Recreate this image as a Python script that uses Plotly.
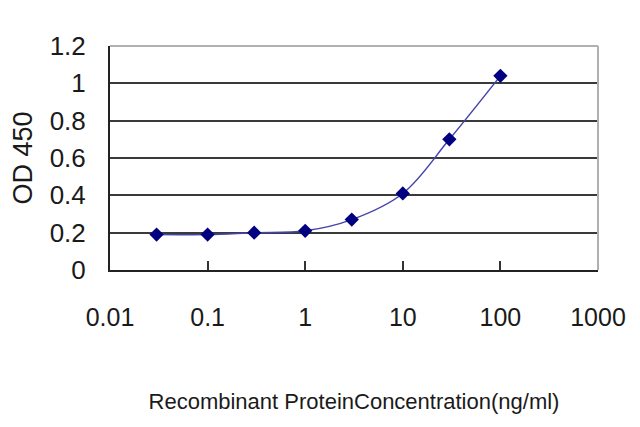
import plotly.graph_objects as go

# concentrations (ng/ml) and OD readings
conc = [0.03, 0.1, 0.3, 1, 3, 10, 30, 100]
od = [0.19, 0.19, 0.20, 0.21, 0.27, 0.41, 0.70, 1.04]

x_ticks = [0.01, 0.1, 1, 10, 100, 1000]
x_labels = ["0.01", "0.1", "1", "10", "100", "1000"]
y_ticks = [0, 0.2, 0.4, 0.6, 0.8, 1, 1.2]
y_labels = ["0", "0.2", "0.4", "0.6", "0.8", "1", "1.2"]

font_name = "Liberation Sans, Arial, sans-serif"

trace = go.Scatter(x=conc,
                   y=od,
                   mode="lines+markers",
                   line=dict(color="#4444aa", width=1.5, shape="spline"),
                   marker=dict(symbol="diamond", size=11, color="#000080"),
                   hoverinfo="x+y")

# page body adds an 8px offset, margins compensate for it
layout = go.Layout(
    width=640, height=427,
    margin=dict(l=102, r=50, t=38, b=165, autoexpand=False),
    paper_bgcolor="white", plot_bgcolor="white",
    showlegend=False,
    font=dict(family=font_name, color="#1a1a1a", size=25),
    xaxis=dict(type="log", range=[-2, 3], automargin=False,
               tickvals=x_ticks, ticktext=x_labels,
               ticks="inside", ticklen=9, tickcolor="#333333", tickwidth=1.5,
               showgrid=False, zeroline=False,
               showline=True, linecolor="#222222", linewidth=2,
               ticklabelstandoff=24,
               tickfont=dict(size=25),
               title=dict(text="Recombinant ProteinConcentration(ng/ml)",
                          font=dict(size=22), standoff=64)),
    yaxis=dict(range=[0, 1.2], automargin=False,
               tickvals=y_ticks, ticktext=y_labels,
               ticks="", showgrid=True, gridcolor="#3a3a3a", gridwidth=2,
               zeroline=False,
               showline=True, linecolor="#222222", linewidth=2,
               ticklabelstandoff=17,
               tickfont=dict(size=26),
               title=dict(text="OD 450", font=dict(size=27), standoff=18)),
    shapes=[
        dict(type="line", xref="paper", yref="paper", x0=0, x1=1, y0=1, y1=1,
             line=dict(color="#b0b0b0", width=2), layer="above"),
        dict(type="line", xref="paper", yref="paper", x0=1, x1=1, y0=0, y1=1,
             line=dict(color="#b0b0b0", width=2), layer="above"),
    ],
)

fig = go.Figure(data=[trace], layout=layout)
fig.write_html("out.html")
